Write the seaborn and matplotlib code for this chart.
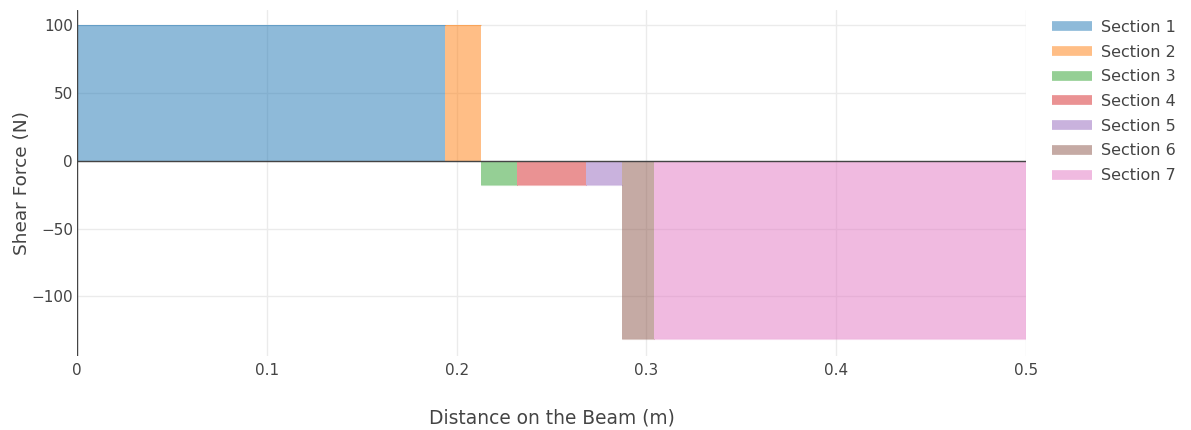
import pandas as pd
import matplotlib
matplotlib.use('Agg')
import matplotlib.pyplot as plt
from matplotlib.lines import Line2D
import seaborn as sns

sections = ['Section 1', 'Section 2', 'Section 3', 'Section 4', 'Section 5', 'Section 6', 'Section 7']
x_start = [0.0, 0.194, 0.213, 0.232, 0.268, 0.287, 0.304]
x_end = [0.194, 0.213, 0.232, 0.268, 0.287, 0.304, 0.5]
shear = [100, 100, -17.4, -17.4, -17.4, -131.6, -131.6]
colors = ['#1f77b4', '#ff7f0e', '#2ca02c', '#d62728', '#9467bd', '#8c564b', '#e377c2']

rows = []
for s, a, b, v in zip(sections, x_start, x_end, shear):
    rows.append({'section': s, 'x': a, 'V': v})
    rows.append({'section': s, 'x': b, 'V': v})
df = pd.DataFrame(rows)

sns.set_style('white')
plt.rcParams['font.family'] = ['DejaVu Sans']

fig = plt.figure(figsize=(11.91, 4.30), dpi=100)
ax = fig.add_axes([0.0647, 0.172, 0.7968, 0.805])

for s, a, b, v, c in zip(sections, x_start, x_end, shear, colors):
    ax.fill_between([a, b], [v, v], 0, color=c, alpha=0.5, linewidth=0)

sns.lineplot(data=df, x='x', y='V', hue='section', palette=colors, alpha=0.3,
             linewidth=0.8, legend=False, ax=ax, sort=False, estimator=None)

ax.set_xlim(0, 0.5)
ax.set_ylim(-144, 111.5)
ax.set_xticks([0, 0.1, 0.2, 0.3, 0.4, 0.5])
ax.set_xticklabels(['0', '0.1', '0.2', '0.3', '0.4', '0.5'])
ax.set_yticks([-100, -50, 0, 50, 100])
ax.grid(True, color='#ebebeb', linewidth=1)
ax.set_axisbelow(True)
for sp in ax.spines.values():
    sp.set_visible(False)
ax.axhline(0, color='#444444', linewidth=1, zorder=3)
ax.axvline(0, color='#444444', linewidth=1, zorder=3)
ax.tick_params(axis='x', length=0, labelsize=11, colors='#444444', pad=5)
ax.tick_params(axis='y', length=0, labelsize=11, colors='#444444', pad=3)
ax.set_xlabel('Distance on the Beam (m)', fontsize=13.4, color='#444444', labelpad=22)
ax.set_ylabel('Shear Force (N)', fontsize=13.3, color='#444444', labelpad=0)

handles = [Line2D([0], [0], color=c, alpha=0.5, linewidth=7, solid_capstyle='butt')
           for c in colors]
leg = fig.legend(handles, sections, loc='upper left', bbox_to_anchor=(1052 / 1191, 0.954),
                 frameon=False, fontsize=11.5, handlelength=2.5, labelspacing=0.61,
                 handletextpad=0.55, borderpad=0, borderaxespad=0)
for t in leg.get_texts():
    t.set_color('#444444')

fig.savefig('out.png', dpi=100)
